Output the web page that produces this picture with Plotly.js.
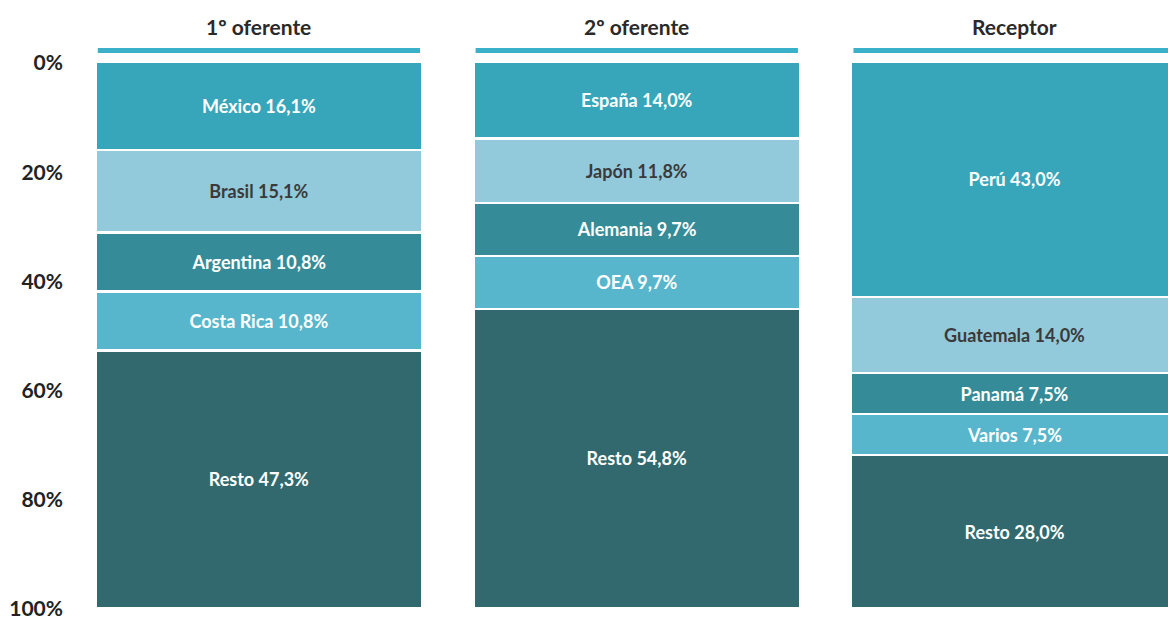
<!DOCTYPE html>
<html>
<head>
<meta charset="utf-8">
<script src="https://cdn.plot.ly/plotly-3.0.1.min.js"></script>
<style>
  html, body { margin: 0; padding: 0; background: #fff; }
  #chart { width: 1168px; height: 617px; }
</style>
</head>
<body>
<div id="chart"></div>
<script>
// columns (one bar each)
const columns = ['1º oferente', '2º oferente', 'Receptor'];

// segments, top to bottom, one array per position in the stack
const seg1Names  = ['México', 'España', 'Perú'];
const seg1Values = [16.1, 14.0, 43.0];
const seg2Names  = ['Brasil', 'Japón', 'Guatemala'];
const seg2Values = [15.1, 11.8, 14.0];
const seg3Names  = ['Argentina', 'Alemania', 'Panamá'];
const seg3Values = [10.8, 9.7, 7.5];
const seg4Names  = ['Costa Rica', 'OEA', 'Varios'];
const seg4Values = [10.8, 9.7, 7.5];
const seg5Names  = ['Resto', 'Resto', 'Resto'];
const seg5Values = [47.3, 54.8, 28.0];

const yTicks = [0, 20, 40, 60, 80, 100];

const FONT = 'Lato, "Open Sans", sans-serif';
const BAR_HALF = 0.4325;   // half bar width, category units

const segs = [
    { names: seg1Names, values: seg1Values, color: '#37a6bb', text: '#ffffff' },
    { names: seg2Names, values: seg2Values, color: '#93cadb', text: '#3a3a3a' },
    { names: seg3Names, values: seg3Values, color: '#358b97', text: '#ffffff' },
    { names: seg4Names, values: seg4Values, color: '#57b6cc', text: '#ffffff' },
    { names: seg5Names, values: seg5Values, color: '#31696e', text: '#ffffff' }
];

const fmt = v => v.toFixed(1).replace('.', ',') + '%';

const traces = segs.map(s => ({
    type: 'bar',
    x: columns,
    y: s.values,
    text: s.names.map((n, i) => n + ' ' + fmt(s.values[i])),
    textposition: 'inside',
    insidetextanchor: 'middle',
    textangle: 0,
    constraintext: 'none',
    textfont: { family: FONT, size: 18, weight: 'bold', color: s.text },
    marker: { color: s.color, line: { color: '#ffffff', width: 2.5 } },
    hoverinfo: 'skip',
    showlegend: false
}));

// header titles and the teal rule under each
const annotations = columns.map(c => ({
    x: c, xref: 'x', y: 1, yref: 'paper',
    yanchor: 'bottom', yshift: 21,
    text: c, showarrow: false,
    font: { family: FONT, size: 21, weight: 'bold', color: '#2a2a2a' }
}));

const shapes = columns.map((c, i) => ({
    type: 'rect', xref: 'x', yref: 'paper',
    x0: i - BAR_HALF + 0.006, x1: i + BAR_HALF - 0.006,
    ysizemode: 'pixel', yanchor: 1, y0: 9, y1: 14,
    fillcolor: '#3ab0c9', line: { width: 0 }
}));

const layout = {
    width: 1168, height: 617,
    margin: { l: 70, r: 0, t: 62, b: 9 },
    paper_bgcolor: '#ffffff',
    plot_bgcolor: '#ffffff',
    barmode: 'stack',
    bargap: 0.135,
    xaxis: {
        type: 'category',
        range: [-0.5, 2.406],
        showticklabels: false,
        showgrid: false, zeroline: false, showline: false
    },
    yaxis: {
        range: [100, 0],
        tickvals: yTicks,
        ticktext: yTicks.map(v => v + '%'),
        tickfont: { family: FONT, size: 21, weight: 'bold', color: '#222222' },
        ticks: '',
        ticklabelshift: -1,
        ticklabelstandoff: 6,
        ticklabeloverflow: 'allow',
        showgrid: false, zeroline: false, showline: false
    },
    annotations,
    shapes
};

Plotly.newPlot('chart', traces, layout, { displayModeBar: false, staticPlot: true });
</script>
</body>
</html>
